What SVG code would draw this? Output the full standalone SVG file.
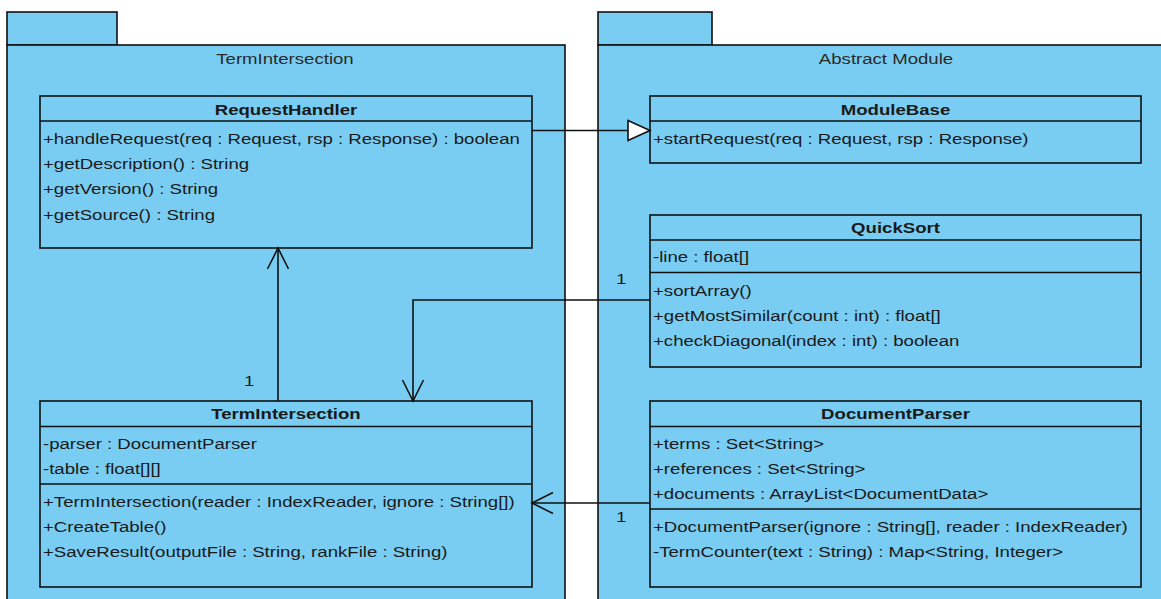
<svg xmlns="http://www.w3.org/2000/svg" width="1161" height="599" viewBox="0 0 1161 599">
<style>
.pkg{fill:#79cdf2;stroke:#111;stroke-width:1.6}
.box{fill:#79cdf2;stroke:#111;stroke-width:1.6}
.dv{stroke:#111;stroke-width:1.6}
text{font-family:"Liberation Sans",Arial,sans-serif;font-size:15.5px;fill:#1a1a1a}
.h{font-weight:bold;text-anchor:middle}
.pl{text-anchor:middle;fill:#2a2a2a}
.c{fill:none;stroke:#111;stroke-width:1.6}
</style>
<defs>
<marker id="open" viewBox="-24 -13 26 26" refX="0" refY="0" markerWidth="26" markerHeight="26" markerUnits="userSpaceOnUse" orient="auto">
<path d="M-21,-10.5 L0,0 L-21,10.5" fill="none" stroke="#111" stroke-width="1.6"/>
</marker>
<marker id="gen" viewBox="-25 -13 27 26" refX="0" refY="0" markerWidth="27" markerHeight="26" markerUnits="userSpaceOnUse" orient="auto">
<path d="M-22,-10 L0,0 L-22,10 Z" fill="#fff" stroke="#111" stroke-width="1.6"/>
</marker>
</defs>
<rect width="1161" height="599" fill="#fff"/>
<g id="pkg-termintersection">
<rect class="pkg" x="7" y="12" width="110" height="33"/>
<rect class="pkg" x="7" y="45" width="558" height="570"/>
<text class="pl" transform="matrix(1.2 0 0 1 285 64)">TermIntersection</text>
</g>
<g id="pkg-abstract-module">
<rect class="pkg" x="598" y="12" width="114" height="33"/>
<rect class="pkg" x="598" y="45" width="580" height="570"/>
<text class="pl" transform="matrix(1.2 0 0 1 886 64)">Abstract Module</text>
</g>
<g id="RequestHandler">
<rect class="box" x="40" y="96" width="492" height="152"/>
<line class="dv" x1="40" y1="121" x2="532" y2="121"/>
<text class="h" transform="matrix(1.2 0 0 1 286 114.5)">RequestHandler</text>
<text transform="matrix(1.2 0 0 1 43 143.5)">+handleRequest(req : Request, rsp : Response) : boolean</text>
<text transform="matrix(1.2 0 0 1 43 168.5)">+getDescription() : String</text>
<text transform="matrix(1.2 0 0 1 43 194)">+getVersion() : String</text>
<text transform="matrix(1.2 0 0 1 43 219.5)">+getSource() : String</text>
</g>
<g id="TermIntersection">
<rect class="box" x="40" y="401" width="492" height="186"/>
<line class="dv" x1="40" y1="426.5" x2="532" y2="426.5"/>
<line class="dv" x1="40" y1="484" x2="532" y2="484"/>
<text class="h" transform="matrix(1.2 0 0 1 286 418.5)">TermIntersection</text>
<text transform="matrix(1.2 0 0 1 43 448.5)">-parser : DocumentParser</text>
<text transform="matrix(1.2 0 0 1 43 473.5)">-table : float[][]</text>
<text transform="matrix(1.2 0 0 1 43 506.5)">+TermIntersection(reader : IndexReader, ignore : String[])</text>
<text transform="matrix(1.2 0 0 1 43 532)">+CreateTable()</text>
<text transform="matrix(1.2 0 0 1 43 557)">+SaveResult(outputFile : String, rankFile : String)</text>
</g>
<g id="ModuleBase">
<rect class="box" x="650" y="96" width="491" height="67"/>
<line class="dv" x1="650" y1="121" x2="1141" y2="121"/>
<text class="h" transform="matrix(1.2 0 0 1 895.5 114.5)">ModuleBase</text>
<text transform="matrix(1.2 0 0 1 653 143.5)">+startRequest(req : Request, rsp : Response)</text>
</g>
<g id="QuickSort">
<rect class="box" x="650" y="215" width="491" height="152"/>
<line class="dv" x1="650" y1="240" x2="1141" y2="240"/>
<line class="dv" x1="650" y1="272.5" x2="1141" y2="272.5"/>
<text class="h" transform="matrix(1.2 0 0 1 895.5 233)">QuickSort</text>
<text transform="matrix(1.2 0 0 1 653 262)">-line : float[]</text>
<text transform="matrix(1.2 0 0 1 653 295.5)">+sortArray()</text>
<text transform="matrix(1.2 0 0 1 653 320.5)">+getMostSimilar(count : int) : float[]</text>
<text transform="matrix(1.2 0 0 1 653 346)">+checkDiagonal(index : int) : boolean</text>
</g>
<g id="DocumentParser">
<rect class="box" x="650" y="401" width="491" height="186"/>
<line class="dv" x1="650" y1="426.5" x2="1141" y2="426.5"/>
<line class="dv" x1="650" y1="509" x2="1141" y2="509"/>
<text class="h" transform="matrix(1.2 0 0 1 895.5 418.5)">DocumentParser</text>
<text transform="matrix(1.2 0 0 1 653 448.5)">+terms : Set&lt;String&gt;</text>
<text transform="matrix(1.2 0 0 1 653 473.5)">+references : Set&lt;String&gt;</text>
<text transform="matrix(1.2 0 0 1 653 499)">+documents : ArrayList&lt;DocumentData&gt;</text>
<text transform="matrix(1.2 0 0 1 653 532)">+DocumentParser(ignore : String[], reader : IndexReader)</text>
<text transform="matrix(1.2 0 0 1 653 557)">-TermCounter(text : String) : Map&lt;String, Integer&gt;</text>
</g>
<g id="connectors">
<path class="c" d="M532,130.5 H650" marker-end="url(#gen)"/>
<path class="c" d="M278,401 V248" marker-end="url(#open)"/>
<path class="c" d="M650,300 H413 V401" marker-end="url(#open)"/>
<path class="c" d="M650,503 H532" marker-end="url(#open)"/>
<text transform="matrix(1.2 0 0 1 244 385.5)">1</text>
<text transform="matrix(1.2 0 0 1 616 283.5)">1</text>
<text transform="matrix(1.2 0 0 1 616 522)">1</text>
</g>
</svg>
